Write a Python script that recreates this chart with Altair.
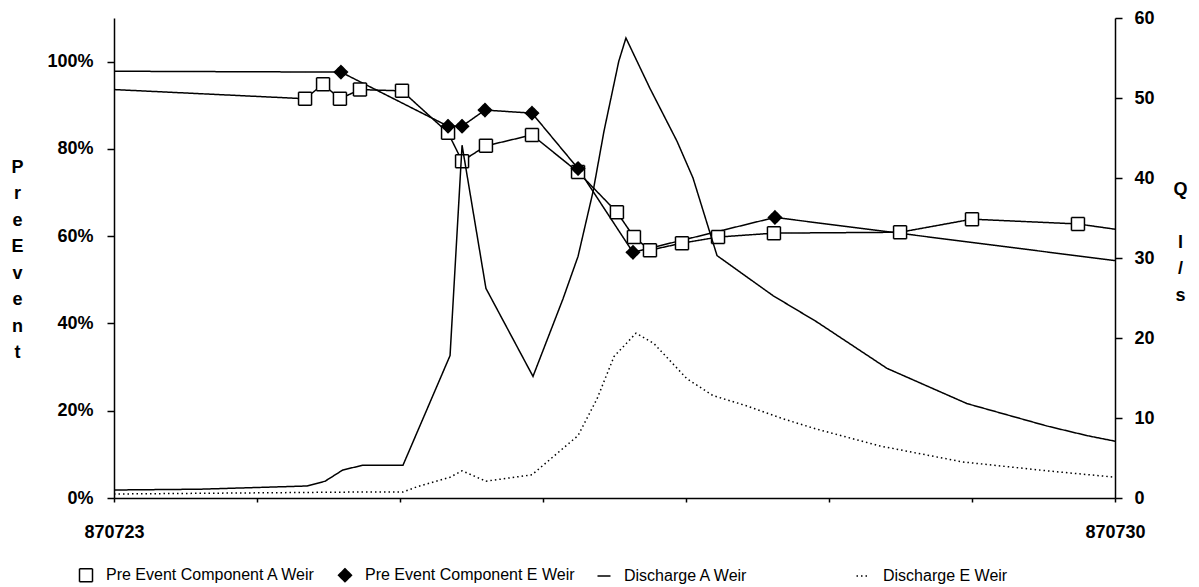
import json
import altair as alt
import pandas as pd

series_names = ["Pre Event Component  A Weir", "Pre Event Component  E Weir",
                "Discharge A Weir", "Discharge E Weir"]

# x in days after 870723
preA_day = [0.0, 1.336, 1.462, 1.580, 1.720, 2.014, 2.336, 2.434, 2.601, 2.923, 3.245,
            3.517, 3.636, 3.748, 3.972, 4.224, 4.615, 5.497, 6.000, 6.741, 7.0]
preA_pct = [93.6, 91.5, 94.8, 91.5, 93.6, 93.3, 83.7, 77.2, 80.7, 83.2, 74.7,
            65.5, 59.8, 56.8, 58.4, 59.8, 60.7, 60.9, 63.9, 62.8, 61.6]
preA_marker = [False] + [True] * 19 + [False]

preE_day = [0.0, 1.587, 2.336, 2.434, 2.594, 2.923, 3.245, 3.629, 4.622, 7.0]
preE_pct = [97.8, 97.6, 85.2, 85.2, 88.9, 88.2, 75.5, 56.3, 64.3, 54.4]
preE_marker = [False] + [True] * 8 + [False]

qA_day = [0.0, 0.60, 1.35, 1.476, 1.60, 1.741, 2.021, 2.350, 2.434, 2.601, 2.930, 3.140,
          3.245, 3.350, 3.427, 3.530, 3.580, 3.748, 3.937, 4.049, 4.217, 4.608, 4.916,
          5.406, 5.965, 6.524, 6.804, 7.0]
qA_val = [1.0, 1.1, 1.5, 2.1, 3.5, 4.1, 4.1, 17.8, 44.1, 26.2, 15.2, 24.9,
          30.2, 38.3, 45.9, 54.6, 57.5, 51.2, 44.6, 40.0, 30.3, 25.3, 22.0,
          16.2, 11.8, 9.0, 7.8, 7.1]

qE_day = [0.0, 1.741, 2.021, 2.119, 2.350, 2.434, 2.601, 2.923, 3.245, 3.378, 3.497,
          3.650, 3.776, 4.007, 4.189, 4.427, 4.678, 4.916, 5.357, 5.937, 6.524, 7.0]
qE_val = [0.5, 0.75, 0.75, 1.4, 2.6, 3.4, 2.1, 2.9, 7.8, 12.4, 17.7,
          20.6, 19.3, 14.9, 12.8, 11.5, 9.9, 8.6, 6.5, 4.5, 3.4, 2.6]

x_tick_text = ["870723", "", "", "", "", "", "", "870730"]
left_ticks = [0, 20, 40, 60, 80, 100]
right_ticks = [0, 10, 20, 30, 40, 50, 60]
left_title = ["P", "r", "e", "E", "v", "e", "n", "t"]
right_title = ["Q", "\u200b", "l", "/", "s"]

rows = []
for d, v, m in zip(preA_day, preA_pct, preA_marker):
    rows.append({"day": d, "value": v, "series": series_names[0], "marker": m})
for d, v, m in zip(preE_day, preE_pct, preE_marker):
    rows.append({"day": d, "value": v, "series": series_names[1], "marker": m})
for d, v in zip(qA_day, qA_val):
    rows.append({"day": d, "value": v, "series": series_names[2], "marker": False})
for d, v in zip(qE_day, qE_val):
    rows.append({"day": d, "value": v, "series": series_names[3], "marker": False})
df = pd.DataFrame(rows)

FONT = "Liberation Sans"

x_enc = alt.X(
    "day:Q",
    scale=alt.Scale(domain=[0, 7], nice=False, zero=False),
    axis=alt.Axis(values=list(range(8)), labelExpr=json.dumps(x_tick_text) + "[datum.value]",
                  title=None, grid=False, tickSize=4, labelPadding=21, labelBaseline="top",
                  labelFlush=False, labelOverlap=False),
)

leg = alt.Legend(
    title=None, orient="none", legendX=-36, legendY=549, direction="horizontal",
    columns=4, gridAlign="all", columnPadding=14, labelFont=FONT, labelFontSize=16,
    labelColor="black", labelLimit=400, labelOffset=12, padding=0,
    symbolStrokeWidth=1.5,
)

dash_scale = alt.Scale(domain=series_names, range=[[1, 0], [1, 0], [1, 0], [1.5, 3]])
stroke_scale = alt.Scale(domain=series_names, range=["black", "black", "black", "black"])
dash_enc = alt.StrokeDash("series:N", scale=dash_scale, legend=leg)
stroke_enc = alt.Stroke("series:N", scale=stroke_scale, legend=leg)

base = alt.Chart(df)

y_left = alt.Y(
    "value:Q",
    scale=alt.Scale(domain=[0, 110], nice=False),
    axis=alt.Axis(values=left_ticks, labelExpr="datum.value + '%'", grid=False, tickSize=7,
                  labelPadding=14, title=left_title, titleAngle=0, titleAlign="center",
                  titleBaseline="top", titleX=-97, titleY=140, titleLineHeight=26.5,
                  titleFontSize=18, titleFont=FONT, titleFontWeight="bold"),
)

pre_line = base.transform_filter(
    alt.FieldOneOfPredicate(field="series", oneOf=series_names[:2])
).mark_line(strokeWidth=1.5).encode(
    x=x_enc, y=y_left, strokeDash=dash_enc, stroke=stroke_enc,
)

pre_pts = base.transform_filter(
    alt.FieldOneOfPredicate(field="series", oneOf=series_names[:2])
).transform_filter(alt.datum.marker).mark_point(
    filled=True, strokeWidth=1.5, opacity=1
).encode(
    x=x_enc, y=y_left,
    shape=alt.Shape("series:N", scale=alt.Scale(domain=series_names,
                    range=["square", "diamond", "stroke", "stroke"]), legend=leg),
    fill=alt.Fill("series:N", scale=alt.Scale(domain=series_names,
                  range=["white", "black", "white", "white"]), legend=leg),
    size=alt.Size("series:N", scale=alt.Scale(domain=series_names,
                  range=[169, 169, 100, 256]), legend=leg),
    strokeDash=dash_enc, stroke=stroke_enc,
)

dis_line = base.transform_filter(
    alt.FieldOneOfPredicate(field="series", oneOf=series_names[2:])
).mark_line(strokeWidth=1.5).encode(
    x=x_enc,
    y=alt.Y("value:Q", scale=alt.Scale(domain=[0, 60], nice=False),
            axis=alt.Axis(values=right_ticks, orient="right", grid=False, tickSize=7,
                          labelPadding=12, title=right_title, titleAngle=0,
                          titleAlign="center", titleBaseline="top", titleX=65,
                          titleY=162, titleLineHeight=26.5, titleFontSize=18,
                          titleFont=FONT, titleFontWeight="bold")),
    strokeDash=dash_enc, stroke=stroke_enc,
)

chart = alt.layer(alt.layer(pre_line, pre_pts), dis_line).resolve_scale(
    y="independent"
).properties(
    width=1001, height=480,
    autosize=alt.AutoSizeParams(type="none"),
    padding={"left": 114, "top": 18, "right": 84, "bottom": 89},
    background="white",
).configure_view(stroke=None).configure_axis(
    labelFont=FONT, labelFontSize=18, labelFontWeight="bold", labelColor="black",
    domainColor="black", tickColor="black", domainWidth=1.5, tickWidth=1.5,
)

chart.save("out.html", embed_options={"renderer": "svg", "actions": False})
